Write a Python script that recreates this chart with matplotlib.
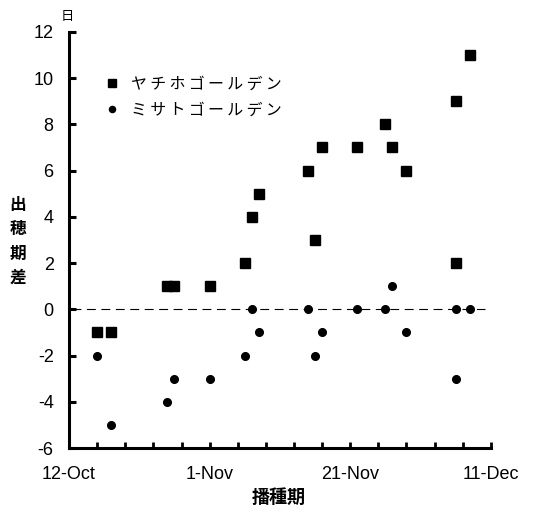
import pandas as pd
import matplotlib.pyplot as plt

plt.rcParams['font.family'] = ['Liberation Sans', 'Noto Sans CJK JP', 'DejaVu Sans']
plt.rcParams['axes.unicode_minus'] = False

start = pd.Timestamp('2000-10-12')

# sowing dates and heading-date differences (days)
yachiho_dates = ['10-16', '10-18', '10-26', '10-27', '11-01', '11-06', '11-07', '11-08',
                 '11-15', '11-16', '11-17', '11-22', '11-26', '11-27', '11-29',
                 '12-06', '12-06', '12-08']
yachiho_diff = [-1, -1, 1, 1, 1, 2, 4, 5, 6, 3, 7, 7, 8, 7, 6, 9, 2, 11]

misato_dates = ['10-16', '10-18', '10-26', '10-27', '11-01', '11-06', '11-07', '11-08',
                '11-15', '11-16', '11-17', '11-22', '11-26', '11-27', '11-29',
                '12-06', '12-06', '12-08']
misato_diff = [-2, -5, -4, -3, -3, -2, 0, -1, 0, -2, -1, 0, 0, 1, -1, 0, -3, 0]

xtick_days = [0, 20, 40, 60]
xtick_labels = ['12-Oct', '1-Nov', '21-Nov', '11-Dec']


def to_days(ds):
    return [(pd.Timestamp('2000-' + d) - start).days for d in ds]


def spaced(s):
    return '\u2009'.join(s)


fig = plt.figure(figsize=(5.46, 5.14), dpi=100)
ax = fig.add_axes([0.1264, 0.1284, 0.7726, 0.8098])

ax.axhline(0, color='black', lw=0.8, dashes=(8, 5), xmin=0.008, xmax=0.985, zorder=1)
ax.plot(to_days(yachiho_dates), yachiho_diff, 's', color='black', ms=7.2, ls='none',
        label=spaced('ヤチホゴールデン'), zorder=3)
ax.plot(to_days(misato_dates), misato_diff, 'o', color='black', ms=5.5, ls='none',
        label=spaced('ミサトゴールデン'), zorder=3)

ax.set_xlim(0, 60)
ax.set_ylim(-6, 12)
ax.set_yticks(range(-6, 13, 2))
ax.set_xticks(xtick_days)
ax.set_xticklabels(xtick_labels)
ax.set_xticks(range(0, 61, 4), minor=True)

for s in ['top', 'right']:
    ax.spines[s].set_visible(False)
for s in ['left', 'bottom']:
    ax.spines[s].set_linewidth(2.2)

ax.tick_params(axis='y', direction='in', length=5, width=2.2, pad=11, labelsize=13)
ax.tick_params(axis='x', which='both', direction='in', length=4, width=2.0, pad=13,
               labelsize=13)

leg = ax.legend(loc='upper left', bbox_to_anchor=(0.03, 0.93), frameon=False,
                handletextpad=0.2, labelspacing=0.6, markerscale=0.8,
                prop={'family': ['Noto Sans CJK JP', 'DejaVu Sans'], 'size': 11.5})

fig.text(0.123, 0.967, '日', ha='center', va='center', fontsize=9.5,
         family=['Noto Sans CJK JP'])
fig.text(0.032, 0.53, '\n'.join('出穂期差'), ha='center', va='center', fontsize=12,
         linespacing=1.45, fontweight='bold', family=['Noto Sans CJK JP'])
fig.text(0.51, 0.033, '播種期', ha='center', va='center', fontsize=13,
         fontweight='bold', family=['Noto Sans CJK JP'])

fig.savefig('out.png', dpi=100)
